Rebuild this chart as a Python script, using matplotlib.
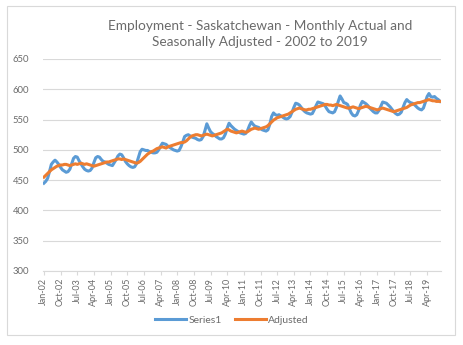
import numpy as np
import pandas as pd
import matplotlib
matplotlib.use('Agg')
import matplotlib.pyplot as plt
import matplotlib.patches as mpatches

plt.rcParams['font.family'] = ['Lato', 'DejaVu Sans']

# monthly actual (thousands), Jan-2002 .. Nov-2019
series1 = [
    445, 448, 453, 464, 476, 480, 483, 480, 476, 471, 467, 465,   # 2002
    463, 464, 468, 477, 486, 489, 488, 482, 477, 472, 468, 466,   # 2003
    465, 466, 470, 479, 487, 489, 488, 484, 481, 480, 478, 476,   # 2004
    475, 474, 479, 484, 490, 493, 492, 487, 481, 477, 474, 472,   # 2005
    471, 472, 477, 487, 497, 501, 500, 499, 499, 497, 496, 495,   # 2006
    495, 496, 500, 506, 511, 510, 509, 506, 504, 502, 500, 499,   # 2007
    498, 499, 505, 513, 522, 524, 525, 523, 521, 520, 519, 517,   # 2008
    516, 517, 522, 532, 543, 536, 530, 527, 525, 522, 520, 518,   # 2009
    518, 520, 526, 536, 544, 540, 537, 534, 532, 530, 528, 527,   # 2010
    526, 527, 532, 540, 546, 542, 539, 538, 537, 535, 533, 532,   # 2011
    531, 533, 542, 555, 561, 558, 557, 558, 556, 554, 552, 551,   # 2012
    552, 555, 562, 570, 577, 576, 574, 570, 566, 563, 561, 560,   # 2013
    559, 560, 566, 573, 579, 578, 577, 576, 572, 567, 563, 562,   # 2014
    561, 563, 570, 580, 589, 584, 578, 577, 575, 568, 561, 557,   # 2015
    556, 558, 565, 574, 580, 578, 576, 573, 569, 566, 563, 561,   # 2016
    561, 565, 572, 579, 578, 577, 574, 571, 567, 563, 560, 558,   # 2017
    559, 562, 570, 578, 583, 580, 578, 577, 575, 572, 569, 567,   # 2018
    566, 569, 578, 588, 593, 588, 587, 588, 585, 583, 580,        # 2019
]

# seasonally adjusted
adjusted = [
    455, 458, 461, 464, 467, 469, 471, 473, 474, 475, 475, 476,   # 2002
    476, 475, 474, 475, 476, 477, 476, 477, 478, 477, 476, 477,   # 2003
    476, 475, 474, 473, 474, 475, 476, 477, 478, 479, 480, 480,   # 2004
    481, 482, 483, 484, 485, 485, 484, 485, 484, 483, 482, 481,   # 2005
    480, 479, 478, 479, 481, 484, 487, 490, 493, 495, 497, 498,   # 2006
    500, 502, 503, 504, 505, 504, 503, 505, 506, 507, 508, 509,   # 2007
    510, 511, 512, 512, 513, 515, 518, 521, 523, 524, 525, 525,   # 2008
    524, 523, 524, 525, 526, 525, 524, 523, 524, 525, 526, 527,   # 2009
    528, 530, 532, 534, 533, 531, 530, 529, 528, 529, 530, 531,   # 2010
    530, 529, 530, 532, 534, 535, 536, 535, 534, 535, 536, 537,   # 2011
    538, 540, 543, 546, 549, 551, 553, 554, 555, 556, 557, 558,   # 2012
    559, 561, 563, 565, 567, 568, 569, 568, 567, 566, 566, 567,   # 2013
    567, 568, 569, 570, 571, 572, 573, 574, 575, 575, 574, 574,   # 2014
    573, 574, 575, 574, 573, 572, 571, 570, 569, 569, 570, 571,   # 2015
    570, 569, 568, 569, 570, 571, 572, 571, 570, 569, 568, 567,   # 2016
    566, 567, 568, 569, 568, 567, 566, 565, 564, 563, 564, 565,   # 2017
    566, 567, 568, 569, 570, 572, 574, 575, 576, 577, 578, 578,   # 2018
    579, 580, 581, 582, 583, 582, 581, 581, 580, 580, 580,        # 2019
]

months = pd.date_range('2002-01-01', periods=len(series1), freq='MS')
month_labels = list(months.strftime('%b-%y'))
label_step = 9
y_ticks = [300, 350, 400, 450, 500, 550, 600, 650]

grey = '#D9D9D9'
txt = '#6b6b6b'

fig = plt.figure(figsize=(4.64, 3.45), dpi=100)
ax = fig.add_axes([43/464, 1-271/345, 398/464, 212/345])

x = np.arange(len(series1))
ax.plot(x, series1, color='#5B9BD5', lw=2.2, label='Series1', solid_joinstyle='round')
ax.plot(x, adjusted, color='#ED7D31', lw=2.2, label='Adjusted', solid_joinstyle='round')

ax.set_xlim(-0.5, len(series1)-0.5)
ax.set_ylim(300, 650)
ax.set_yticks(y_ticks)
ax.grid(axis='y', color=grey, lw=0.8)
ax.set_axisbelow(True)
for s in ['top', 'right', 'left']:
    ax.spines[s].set_visible(False)
ax.spines['bottom'].set_color(grey)
ax.spines['bottom'].set_linewidth(0.8)

ax.set_xticks(x[::label_step])
ax.set_xticklabels(month_labels[::label_step], rotation=90)
ax.tick_params(axis='x', colors=grey, length=3, width=0.8, labelcolor=txt, labelsize=6.5, pad=2)
ax.tick_params(axis='y', length=0, labelcolor=txt, labelsize=6.8, pad=10)

fig.text(260/464, 1-34/345, 'Employment - Saskatchewan - Monthly Actual and\nSeasonally Adjusted - 2002 to 2019',
         ha='center', va='center', color=txt, fontsize=9.8, linespacing=1.3)

fig.legend(loc='center', bbox_to_anchor=(0.5, 1-320/345), ncol=2, frameon=False,
           fontsize=7.5, labelcolor=txt, handlelength=3.0, handletextpad=0.2, columnspacing=1.3)

fig.patches.append(mpatches.Rectangle((7/464, 1-335/345), 448/464, 329/345, transform=fig.transFigure,
                                      fill=False, edgecolor=grey, lw=0.8))

fig.savefig('out.png', dpi=100)
